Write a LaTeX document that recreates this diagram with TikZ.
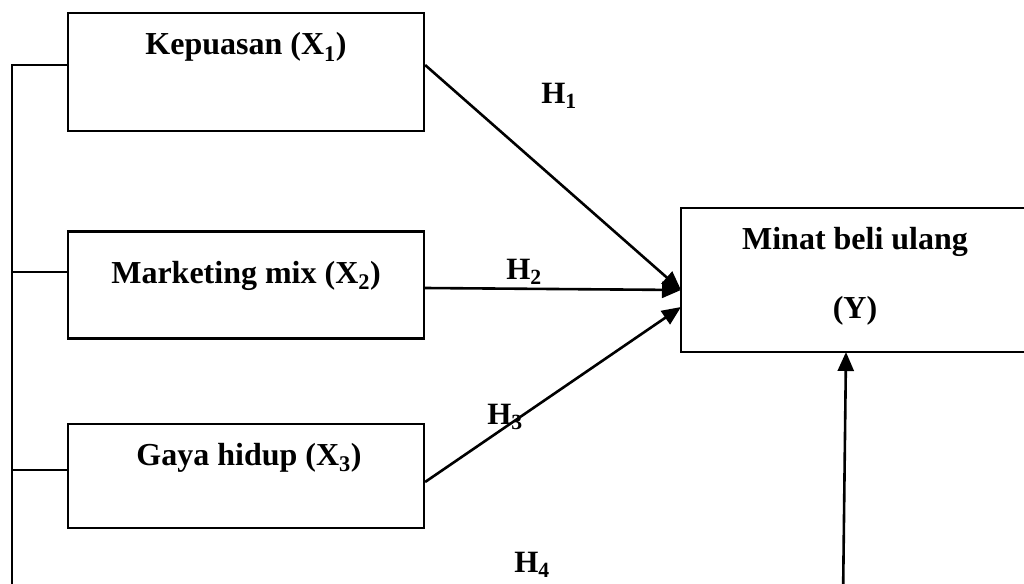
\documentclass[tikz,border=0pt]{standalone}
\usepackage{fontspec}
\setmainfont{Liberation Serif}
\usetikzlibrary{arrows.meta}
\begin{document}
\begin{tikzpicture}[x=1pt,y=-1pt,
  box/.style={draw,line width=2.2pt,rectangle,inner sep=0pt},
  lbl/.style={anchor=base,inner sep=0pt,font=\fontsize{32}{36}\selectfont\bfseries},
  hlbl/.style={anchor=base,inner sep=0pt,font=\fontsize{31}{36}\selectfont\bfseries},
  conn/.style={line width=2.2pt},
  arr/.style={line width=2.6pt,-{Triangle[length=19pt,width=16pt]}}]
\useasboundingbox (0,0) rectangle (1024,583);
% boxes
\node[box,minimum width=356pt,minimum height=118pt] (x1) at (246,72) {};
\node[box,minimum width=356pt,minimum height=107pt] (x2) at (246,285) {};
\node[box,minimum width=356pt,minimum height=104pt] (x3) at (246,476) {};
\node[box,minimum width=350pt,minimum height=144pt] (y) at (856,280) {};
% box texts
\node[lbl] (t1) at (246,55) {Kepuasan (X\textsubscript{1})};
\node[lbl] (t2) at (246,283) {Marketing mix (X\textsubscript{2})};
\node[lbl] (t3) at (249,465) {Gaya hidup (X\textsubscript{3})};
\node[lbl] (ty1) at (855,249) {Minat beli ulang};
\node[lbl] (ty2) at (855,318) {(Y)};
% hypothesis labels
\node[hlbl] (h1) at (559,103) {H\textsubscript{1}};
\node[hlbl] (h2) at (524,279) {H\textsubscript{2}};
\node[hlbl] (h3) at (505,424) {H\textsubscript{3}};
\node[hlbl] (h4) at (532,572) {H\textsubscript{4}};
% left bracket line
\coordinate (lt) at (12,65);
\coordinate (lb) at (12,600);
\draw[conn] (lb) -- (lt) -- (x1.west |- lt);
\draw[conn] (12,272) -- (x2.west |- 0,272);
\draw[conn] (12,470) -- (x3.west |- 0,470);
% arrows
\draw[arr] (x1.east |- 0,65) -- (681,290);
\draw[arr] (x2.east |- 0,288) -- (681,290);
\draw[arr] (x3.east |- 0,482) -- (681,307);
\coordinate (bot) at (843,600);
\draw[arr] (bot) -- (846,352);
\end{tikzpicture}
\end{document}
